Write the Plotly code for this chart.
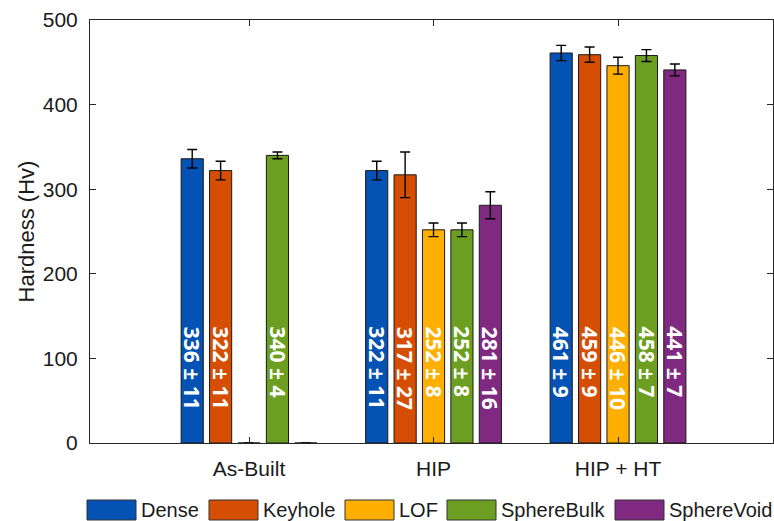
import plotly.graph_objects as go

# ---- data ----
categories = ["As-Built", "HIP", "HIP + HT"]
series_names = ["Dense", "Keyhole", "LOF", "SphereBulk", "SphereVoid"]
dense = [336, 322, 461]
dense_err = [11, 11, 9]
keyhole = [322, 317, 459]
keyhole_err = [11, 27, 9]
lof = [0, 252, 446]          # no As-Built measurement
lof_err = [0, 8, 10]
spherebulk = [340, 252, 458]
spherebulk_err = [4, 8, 7]
spherevoid = [0, 281, 441]   # no As-Built measurement
spherevoid_err = [0, 16, 7]
y_ticks = [0, 100, 200, 300, 400, 500]

values = [dense, keyhole, lof, spherebulk, spherevoid]
errors = [dense_err, keyhole_err, lof_err, spherebulk_err, spherevoid_err]

# ---- style ----
colors = ["#0452B3", "#D64E04", "#FFAF00", "#6C9F21", "#7F2A80"]
W, H = 774, 521
L, R, T, B = 90, 1, 20, 78
BARGAP, GROUPGAP = 0.23, 0.22
LABEL_TOP = 140  # data-units position of the top of in-bar labels
axis_col = "#262626"
font_fam = "Liberation Sans, Arial, sans-serif"

fig = go.Figure()
for name, vals, errs, col in zip(series_names, values, errors, colors):
    fig.add_trace(go.Bar(
        name=name, x=categories, y=vals,
        marker=dict(color=col, line=dict(color="#1a1a1a", width=1)),
        error_y=dict(type="data", array=errs, visible=True,
                     color="black", thickness=1.4, width=5),
        showlegend=False,
    ))

# in-bar rotated labels
slot = (1 - BARGAP) / len(series_names)
annotations = []
for i, (vals, errs) in enumerate(zip(values, errors)):
    for j, (v, e) in enumerate(zip(vals, errs)):
        if v == 0:
            continue
        annotations.append(dict(
            x=j + (i - (len(series_names) - 1) / 2) * slot, y=LABEL_TOP,
            xref="x", yref="y", text=f"{v} ± {e}", showarrow=False,
            textangle=90, xanchor="center", yanchor="top",
            font=dict(family="Open Sans, sans-serif", size=21, color="white",
                      weight="bold"),
        ))

# custom legend (wide swatches), pixel positions converted to paper coords
pw, ph = W - L - R, H - T - B
def px(x):
    return (x - L) / pw
def py(y):
    return (H - B - y) / ph

legend_x = [87, 209, 345, 447, 615]
box_w, box_y0, box_y1 = 49, 500, 520
shapes = []
for name, col, x0 in zip(series_names, colors, legend_x):
    shapes.append(dict(type="rect", xref="paper", yref="paper",
                       x0=px(x0), x1=px(x0 + box_w), y0=py(box_y1), y1=py(box_y0),
                       fillcolor=col, line=dict(color="#333333", width=1)))
    annotations.append(dict(xref="paper", yref="paper", x=px(x0 + box_w + 3),
                            y=py((box_y0 + box_y1) / 2), text=name, showarrow=False,
                            xanchor="left", yanchor="middle",
                            font=dict(family=font_fam, size=20, color="#1a1a1a")))

fig.update_layout(
    width=W, height=H, autosize=False,
    margin=dict(l=L, r=R, t=T, b=B, autoexpand=False),
    paper_bgcolor="white", plot_bgcolor="white",
    barmode="group", bargap=BARGAP, bargroupgap=GROUPGAP,
    annotations=annotations, shapes=shapes,
    font=dict(family=font_fam, size=21, color=axis_col),
)
fig.update_xaxes(
    type="category", range=[-0.862, 2.84],
    showline=True, linecolor=axis_col, linewidth=1, mirror="allticks",
    ticks="inside", ticklen=6, tickcolor=axis_col,
    ticklabelstandoff=7,
    tickfont=dict(family=font_fam, size=21, color="#1a1a1a"),
    showgrid=False, zeroline=False,
)
fig.update_yaxes(
    range=[0, 500], tickvals=y_ticks,
    showline=True, linecolor=axis_col, linewidth=1, mirror="allticks",
    ticks="inside", ticklen=6, tickcolor=axis_col,
    ticklabelstandoff=7,
    tickfont=dict(family=font_fam, size=21, color="#1a1a1a"),
    title=dict(text="Hardness (Hv)", font=dict(family=font_fam, size=22, color="#1a1a1a"),
               standoff=2),
    showgrid=False, zeroline=False,
)

fig.write_html("out.html", config={"displayModeBar": False},
               post_script="document.body.style.margin='0';document.body.style.overflow='hidden';")
